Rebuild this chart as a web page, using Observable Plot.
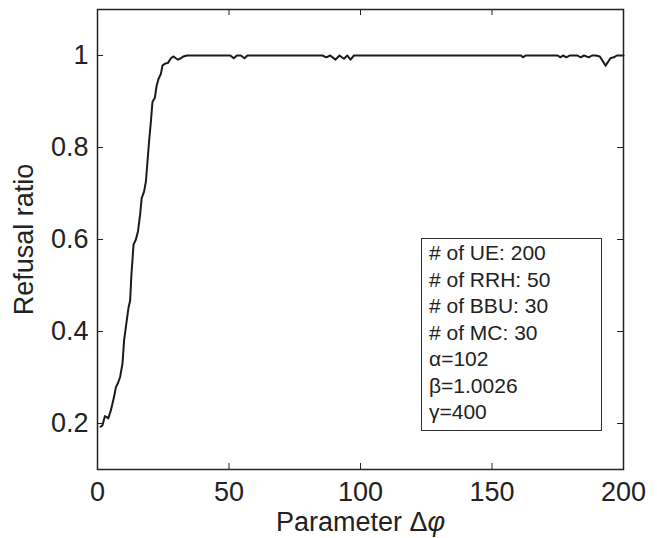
<!DOCTYPE html>
<html>
<head>
<meta charset="utf-8">
<script src="https://cdn.jsdelivr.net/npm/d3@7"></script>
<script src="https://cdn.jsdelivr.net/npm/@observablehq/plot@0.6"></script>
<style>
  body { margin: 0; background: #fff; }
  #wrap { position: relative; width: 657px; height: 538px; font-family: "Liberation Sans", Arial, Helvetica, sans-serif; }
  #legend { position: absolute; left: 421px; top: 238px; width: 172px; height: 190px; border: 1.3px solid #333; background: #fff;
            font-size: 21px; color: #222; line-height: 26.5px; padding: 1px 0 0 7px; box-sizing: content-box; }
</style>
</head>
<body>
<div id="wrap"><div id="legend"></div></div>
<script>
// Parameter Δφ (x) and refusal ratio (y)
const deltaPhi = [1.2, 1.9, 2.8, 3.5, 4.1, 5.1, 6.3, 7.0, 7.8, 8.6, 9.5, 10.1, 11.1, 11.8, 12.4, 12.9, 13.7, 14.6, 15.4, 16.2, 16.8, 17.7, 18.4, 19.0, 19.6, 20.3, 20.9, 21.8, 22.5, 23.2, 24.1, 24.7, 25.6, 26.8, 27.9, 28.9, 29.8, 30.6, 31.7, 32.7, 34,
  50.5, 51.8, 53, 54.5, 55.9, 57,
  85.5, 87, 88.5, 90.5, 92, 93.7, 95, 96.2, 97.5,
  161, 161.8, 162.8,
  175, 176, 177, 178.3, 179.5,
  182.5, 183.7, 185, 186.8, 188, 189.5, 191, 193.2, 195, 196.3, 197.5, 200];
const refusal = [0.193, 0.196, 0.216, 0.214, 0.211, 0.229, 0.258, 0.279, 0.288, 0.301, 0.330, 0.380, 0.423, 0.452, 0.467, 0.524, 0.589, 0.600, 0.618, 0.654, 0.690, 0.704, 0.726, 0.769, 0.813, 0.856, 0.899, 0.908, 0.935, 0.949, 0.960, 0.978, 0.982, 0.984, 0.994, 0.998, 0.994, 0.991, 0.994, 0.998, 1,
  1, 0.994, 1, 1, 0.994, 1,
  1, 0.996, 1, 0.991, 1, 0.993, 1, 0.991, 1,
  1, 0.996, 1,
  1, 0.996, 1, 0.996, 1,
  1, 0.996, 1, 0.996, 1, 1, 0.998, 0.978, 0.994, 0.996, 1, 1];
const xTicks = [0, 50, 100, 150, 200];
const yTicks = [0.2, 0.4, 0.6, 0.8, 1];
const xTickLabels = ["0", "50", "100", "150", "200"];
const yTickLabels = ["0.2", "0.4", "0.6", "0.8", "1"];
const xLabel = "Parameter Δφ";
const yLabel = "Refusal ratio";
const legendLines = ["# of UE: 200", "# of RRH: 50", "# of BBU: 30", "# of MC: 30", "α=102", "β=1.0026", "γ=400"];

const data = deltaPhi.map((x, i) => ({x, y: refusal[i]}));

const W = 657, H = 538;
const mL = 97, mR = 34, mT = 9, mB = 69;
const pw = W - mL - mR, ph = H - mT - mB;
const tick = 6;
const ink = "#222";

const chart = Plot.plot({
  width: W, height: H,
  marginLeft: mL, marginRight: mR, marginTop: mT, marginBottom: mB,
  style: {fontFamily: '"Liberation Sans", Arial, Helvetica, sans-serif', fontSize: "27px", color: ink, background: "white", overflow: "visible"},
  x: {domain: [0, 200]},
  y: {domain: [0.1, 1.1]},
  marks: [
    Plot.line(data, {x: "x", y: "y", stroke: "#1a1a1a", strokeWidth: 2}),
    Plot.tickX(xTicks, {x: d => d, insetTop: ph - tick, stroke: ink, strokeWidth: 1}),
    Plot.tickX(xTicks, {x: d => d, insetBottom: ph - tick, stroke: ink, strokeWidth: 1}),
    Plot.tickY(yTicks, {y: d => d, insetRight: pw - tick, stroke: ink, strokeWidth: 1}),
    Plot.tickY(yTicks, {y: d => d, insetLeft: pw - tick, stroke: ink, strokeWidth: 1}),
    Plot.frame({stroke: ink, strokeWidth: 1.5}),
    Plot.axisX({ticks: xTicks, tickFormat: d => xTickLabels[xTicks.indexOf(d)], tickSize: 0, tickPadding: 12, fontSize: 27, label: null}),
    Plot.axisY({ticks: yTicks, tickFormat: d => yTickLabels[yTicks.indexOf(d)], tickSize: 0, tickPadding: 9, fontSize: 27, label: null}),
    Plot.text([xLabel], {text: d => d, frameAnchor: "bottom", lineAnchor: "middle", textAnchor: "middle", dy: 53, fontSize: 27, fill: ink}),
    Plot.text([yLabel], {text: d => d, frameAnchor: "left", lineAnchor: "middle", textAnchor: "middle", dx: -73, rotate: -90, fontSize: 27, fill: ink})
  ]
});

// italic φ in the x label
d3.select(chart).selectAll("text").each(function() {
  if (this.textContent === xLabel) {
    const t = d3.select(this);
    t.text(null);
    t.append("tspan").text("Parameter Δ");
    t.append("tspan").attr("font-style", "italic").text("φ");
  }
});

const wrap = document.getElementById("wrap");
wrap.insertBefore(chart, wrap.firstChild);
const legend = document.getElementById("legend");
legendLines.forEach(s => { const d = document.createElement("div"); d.textContent = s; legend.appendChild(d); });
</script>
</body>
</html>
